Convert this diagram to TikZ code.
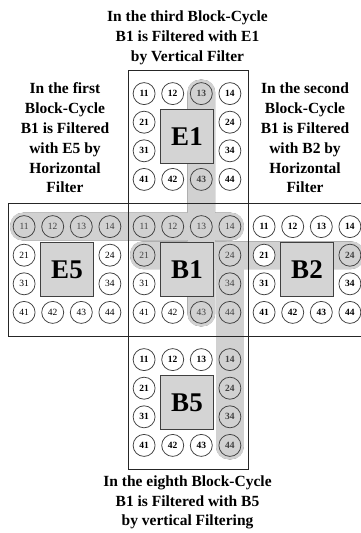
\documentclass[tikz,border=0pt]{standalone}
\usepackage{fontspec}
\setmainfont{Liberation Serif}
\usetikzlibrary{fit,backgrounds}

\definecolor{barfill}{gray}{0.82}
\definecolor{corefill}{gray}{0.83}

% cells that lie on a filter path
\newcommand\hlcells{E1-13,E1-43,E5-11,E5-12,E5-13,E5-14,B1-11,B1-12,B1-13,B1-14,
  B1-21,B1-24,B1-34,B1-43,B1-44,B2-24,B5-14,B5-24,B5-34,B5-44}
\foreach \h in \hlcells {\expandafter\gdef\csname hl:\h\endcsname{}}

\begin{document}
\begin{tikzpicture}[x=1pt,y=-1pt,
  blockframe/.style={draw=black!85, line width=0.8pt, minimum width=120pt,
                     minimum height=133pt, inner sep=0pt},
  core/.style={draw=black!75, line width=0.8pt, fill=corefill,
               minimum width=53pt, minimum height=54pt, inner sep=0pt,
               font=\fontsize{27}{27}\selectfont\bfseries},
  cell/.style={circle, draw=black!75, line width=0.75pt, minimum size=22pt,
               inner sep=0pt, font=\fontsize{9.5}{10}\selectfont},
  bar/.style={draw=black!85, line width=2pt, fill=barfill,
              rounded corners=12pt, inner sep=1.5pt},
  heading/.style={align=center, font=\fontsize{15.5}{19.8}\selectfont\bfseries}
]
\useasboundingbox (0,0) rectangle (360,533);

\node[heading] (ttl) at (187.5,37.5) {In the third Block-Cycle\\B1 is Filtered with E1\\by Vertical Filter};
\node[heading] (lft) at (65,138)     {In the first\\Block-Cycle\\B1 is Filtered\\with E5 by\\Horizontal\\Filter};
\node[heading] (rgt) at (305,138)    {In the second\\Block-Cycle\\B1 is Filtered\\with B2 by\\Horizontal\\Filter};
\node[heading] (btm) at (187.5,502.5) {In the eighth Block-Cycle\\B1 is Filtered with B5\\by vertical Filtering};

% blocks: frame, centre square and the ring of twelve cells
\foreach \blk/\fx/\fy/\wt in {E1/188/137/\bfseries, E5/68/270/\mdseries,
    B1/188/270/\mdseries, B2/308/270/\bfseries, B5/188/403/\bfseries} {
  \pgfmathsetmacro\gx{\fx-1}
  \pgfmathsetmacro\gy{\fy-0.5}
  \node[blockframe] (f\blk) at (\fx,\fy) {};
  \node[core] (\blk) at (\gx,\gy) {\blk};
  \foreach \r/\c in {1/1,1/2,1/3,1/4,2/1,2/4,3/1,3/4,4/1,4/2,4/3,4/4} {
    \pgfmathsetmacro\cx{\gx+(\c-2.5)*28.6}
    \pgfmathsetmacro\cy{\gy+(\r-2.5)*28.6}
    \ifcsname hl:\blk-\r\c\endcsname
      \def\cf{barfill}\def\ct{black!75}%
    \else
      \def\cf{white}\def\ct{black}%
    \fi
    \node[cell, fill=\cf, text=\ct] (\blk-\r\c) at (\cx,\cy) {\wt\r\c};
  }
}

% filter paths behind the cells
\begin{scope}[on background layer]
  \node[bar, fit=(E5-11)(B1-14)] (rowA) {};
  \node[bar, fit=(E1-13)(B1-43)] (colA) {};
  \node[bar, fit=(B1-21)(B2-24)] (rowB) {};
  \node[bar, fit=(B1-24)(B5-44)] (colB) {};
  \foreach \b in {rowA,colA,rowB,colB}
    \fill[barfill, rounded corners=12pt] (\b.south west) rectangle (\b.north east);
\end{scope}

\end{tikzpicture}
\end{document}
